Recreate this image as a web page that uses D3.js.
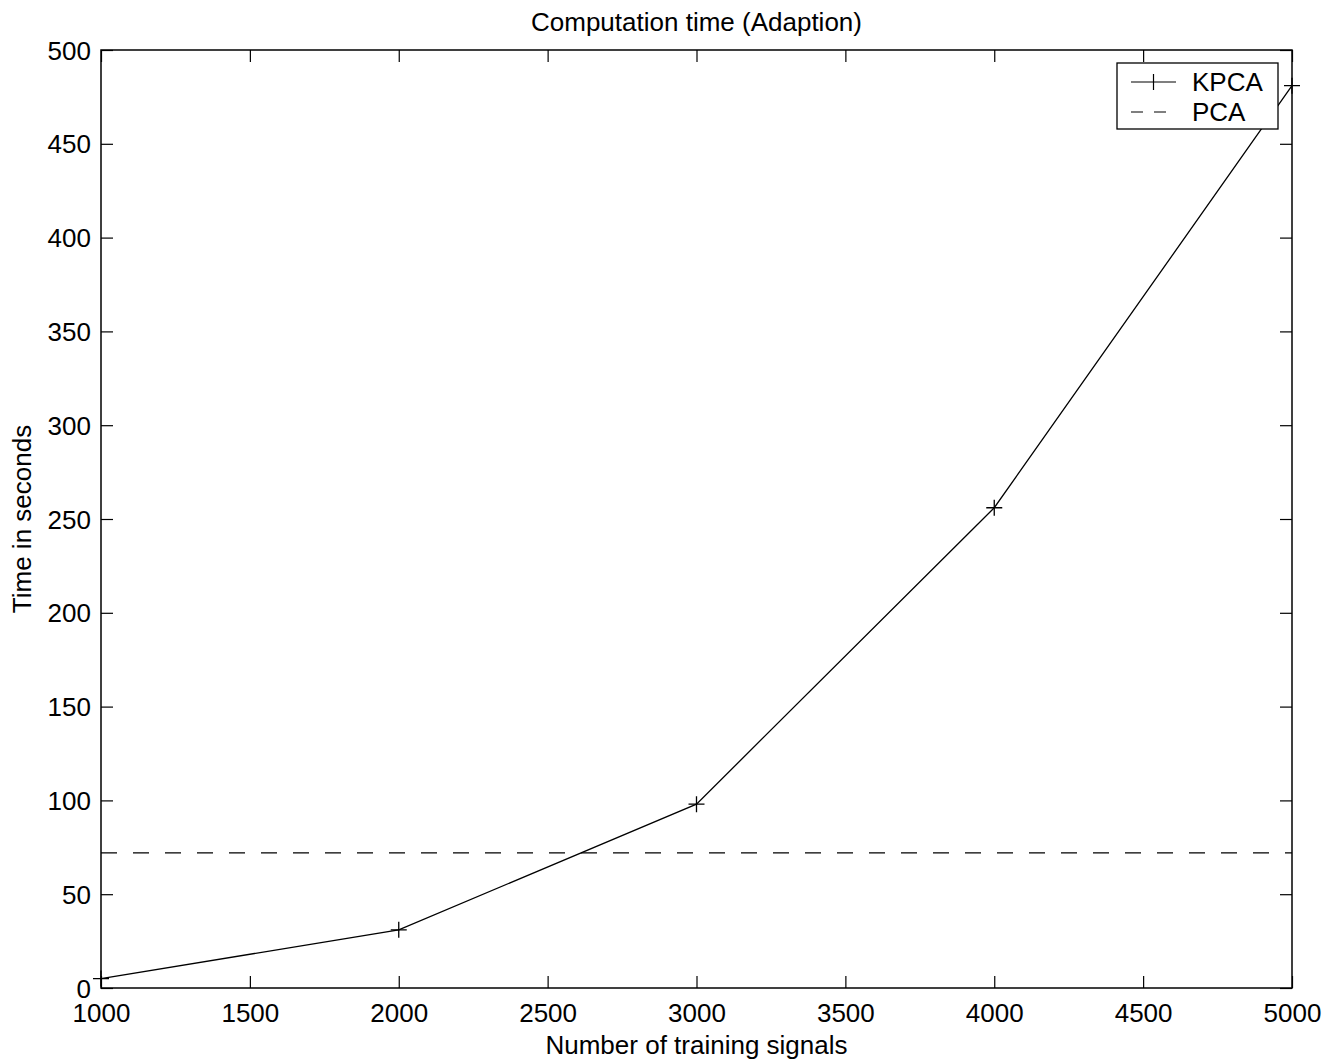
<!DOCTYPE html>
<html><head><meta charset="utf-8">
<script src="https://cdn.jsdelivr.net/npm/d3@7"></script>
<style>body{margin:0;background:#fff}svg{display:block}text{font-family:"Liberation Sans",Arial,sans-serif;fill:#000}</style>
</head><body>
<svg id="c" width="1335" height="1059"></svg>
<script>
const xTicks = [1000,1500,2000,2500,3000,3500,4000,4500,5000];
const yTicks = [0,50,100,150,200,250,300,350,400,450,500];
const kpcaX = [1000,2000,3000,4000,5000];
const kpcaY = [5,31,98,256,481];
const pcaValue = 72;
const title = "Computation time (Adaption)";
const xLabel = "Number of training signals";
const yLabel = "Time in seconds";

const svg = d3.select("#c");
const L=101,R=1292,T=50,B=988;
const x = d3.scaleLinear().domain([1000,5000]).range([L,R]);
const y = d3.scaleLinear().domain([0,500]).range([B,T]);
const tl = 12, fs = 26;

const gx = svg.append("g").attr("transform",`translate(0,${B})`)
  .call(d3.axisBottom(x).tickValues(xTicks).tickSizeInner(-tl).tickSizeOuter(0).tickFormat(d3.format("d")));
const gxt = svg.append("g").attr("transform",`translate(0,${T})`)
  .call(d3.axisTop(x).tickValues(xTicks).tickSizeInner(-tl).tickSizeOuter(0).tickFormat(""));
const gy = svg.append("g").attr("transform",`translate(${L},0)`)
  .call(d3.axisLeft(y).tickValues(yTicks).tickSizeInner(-tl).tickSizeOuter(0).tickFormat(d3.format("d")));
const gyr = svg.append("g").attr("transform",`translate(${R},0)`)
  .call(d3.axisRight(y).tickValues(yTicks).tickSizeInner(-tl).tickSizeOuter(0).tickFormat(""));
[gx,gxt,gy,gyr].forEach(g=>{
  g.select(".domain").remove();
  g.selectAll(".tick line").attr("stroke","#000").attr("stroke-width",1.2);
  g.selectAll("text").attr("font-size",fs).attr("font-family","Liberation Sans, Arial, sans-serif").attr("fill","#000");
});
gx.selectAll("text").attr("y",25).attr("dy","0.35em");
gy.selectAll("text").attr("x",-10).attr("dy","0.35em");
svg.append("rect").attr("x",L).attr("y",T).attr("width",R-L).attr("height",B-T)
  .attr("fill","none").attr("stroke","#000").attr("stroke-width",1.5);

svg.append("line").attr("x1",x(1000)).attr("x2",x(5000)).attr("y1",y(pcaValue)).attr("y2",y(pcaValue))
  .attr("stroke","#000").attr("stroke-width",1.2).attr("stroke-dasharray","16,16");

const pts = kpcaX.map((d,i)=>[d,kpcaY[i]]);
svg.append("path").datum(pts).attr("fill","none").attr("stroke","#000").attr("stroke-width",1.3)
  .attr("d",d3.line().x(d=>x(d[0])).y(d=>y(d[1])));
const ms=8;
svg.selectAll(".mk").data(pts).enter().append("path")
  .attr("d",d=>`M${x(d[0])-ms},${y(d[1])}H${x(d[0])+ms}M${x(d[0])},${y(d[1])-ms}V${y(d[1])+ms}`)
  .attr("stroke","#000").attr("stroke-width",1.3).attr("fill","none");

svg.append("rect").attr("x",1117).attr("y",63).attr("width",161).attr("height",66)
  .attr("fill","#fff").attr("stroke","#000").attr("stroke-width",1.3);
svg.append("line").attr("x1",1131).attr("x2",1176).attr("y1",82).attr("y2",82).attr("stroke","#000").attr("stroke-width",1.2);
svg.append("path").attr("d","M1153.5,74V90").attr("stroke","#000").attr("stroke-width",1.2);
svg.append("line").attr("x1",1131).attr("x2",1176).attr("y1",112).attr("y2",112).attr("stroke","#000").attr("stroke-width",1.2).attr("stroke-dasharray","12,11");
svg.append("text").attr("x",1192).attr("y",82).attr("dy","0.35em").attr("font-size",fs).text("KPCA");
svg.append("text").attr("x",1192).attr("y",112).attr("dy","0.35em").attr("font-size",fs).text("PCA");

svg.append("text").attr("x",(L+R)/2).attr("y",22).attr("dy","0.35em").attr("text-anchor","middle").attr("font-size",fs).text(title);
svg.append("text").attr("x",(L+R)/2).attr("y",1045).attr("dy","0.35em").attr("text-anchor","middle").attr("font-size",fs).text(xLabel);
svg.append("text").attr("transform",`translate(22,${(T+B)/2}) rotate(-90)`).attr("dy","0.35em").attr("text-anchor","middle").attr("font-size",fs).text(yLabel);
</script>
</body></html>
